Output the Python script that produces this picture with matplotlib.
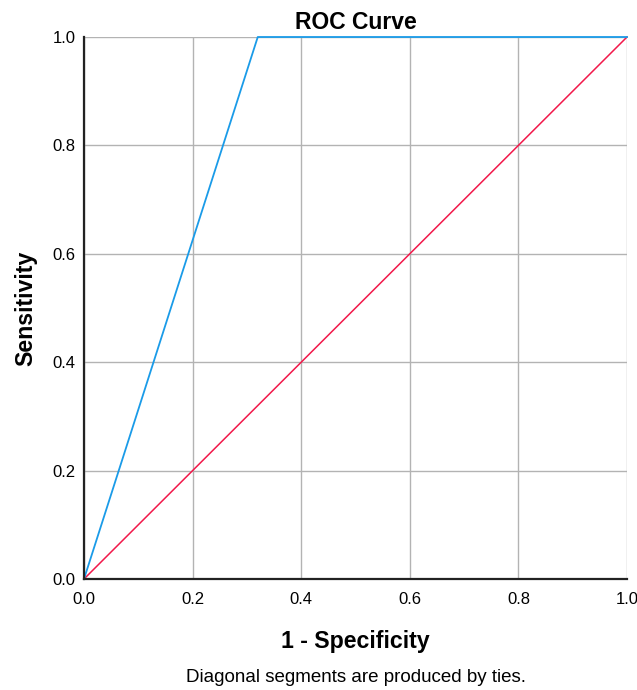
import numpy as np
import matplotlib
matplotlib.use("Agg")
import matplotlib.pyplot as plt

plt.rcParams['font.family'] = ['Liberation Sans', 'DejaVu Sans']

# Pontos da curva ROC
fpr = [0.0, 0.32, 1.0]
tpr = [0.0, 1.0, 1.0]
# Linha de referência
ref_x = [0.0, 1.0]
ref_y = [0.0, 1.0]
ticks = [0.0, 0.2, 0.4, 0.6, 0.8, 1.0]

fig = plt.figure(figsize=(6.37, 6.9), dpi=100)
ax = fig.add_axes([84/637, 1-579/690, 543/637, 542/690])

ax.set_xlim(0, 1)
ax.set_ylim(0, 1)
ax.set_xticks(ticks)
ax.set_yticks(ticks)
ax.set_xticklabels([f"{t:.1f}" for t in ticks], fontsize=12)
ax.set_yticklabels([f"{t:.1f}" for t in ticks], fontsize=12)
ax.grid(True, color="#b3b3b3", linewidth=1)
ax.set_axisbelow(True)
ax.tick_params(axis="x", length=0, pad=9)
ax.tick_params(axis="y", length=0, pad=6)

for s in ["top", "right"]:
    ax.spines[s].set_visible(False)
for s in ["left", "bottom"]:
    ax.spines[s].set_color("#222222")
    ax.spines[s].set_linewidth(1.6)
    ax.spines[s].set_zorder(5)

ax.plot(ref_x, ref_y, color="#f2184a", linewidth=1.1, clip_on=False)
ax.plot(fpr, tpr, color="#1a9be8", linewidth=1.3, clip_on=False)

ax.set_title("ROC Curve", fontsize=16.5, fontweight="bold", pad=6)
ax.set_xlabel("1 - Specificity", fontsize=16.7, fontweight="bold", labelpad=17)
ax.set_ylabel("Sensitivity", fontsize=16.7, fontweight="bold", labelpad=11)

fig.text(356/637, 1-678/690, "Diagonal segments are produced by ties.",
         ha="center", va="center", fontsize=13.5)

fig.savefig("out.png", dpi=100)
